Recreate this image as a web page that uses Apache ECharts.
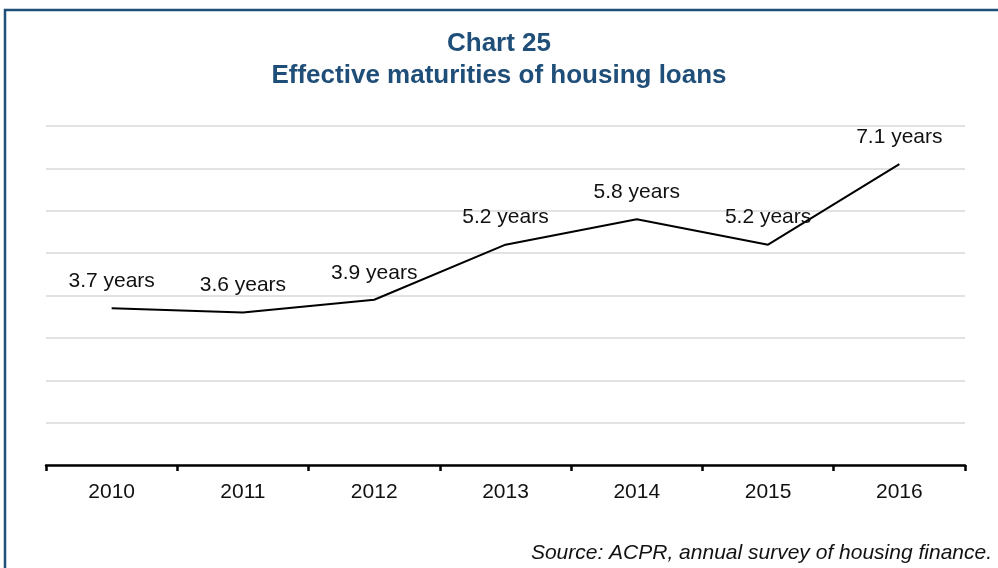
<!DOCTYPE html>
<html>
<head>
<meta charset="utf-8">
<script src="https://cdn.jsdelivr.net/npm/echarts@6/dist/echarts.min.js"></script>
<style>
  html, body { margin: 0; padding: 0; background: #fff; }
  #chart { width: 998px; height: 568px; }
</style>
</head>
<body>
<div id="chart"></div>
<script>
// Effective maturities of housing loans, in years
const years = ['2010', '2011', '2012', '2013', '2014', '2015', '2016'];
const maturities = [3.7, 3.6, 3.9, 5.2, 5.8, 5.2, 7.1];
const titleLines = ['Chart 25', 'Effective maturities of housing loans'];
const sourceNote = 'Source: ACPR, annual survey of housing finance.';

const FONT = 'Liberation Sans, Arial, sans-serif';
const BLUE = '#1F4E79';

const chart = echarts.init(document.getElementById('chart'), null, { renderer: 'canvas' });

chart.setOption({
  animation: false,
  backgroundColor: '#ffffff',
  title: {
    text: titleLines.join('\n'),
    left: 'center',
    top: 23,
    textStyle: {
      fontFamily: FONT,
      fontSize: 26,
      fontWeight: 'bold',
      color: BLUE,
      lineHeight: 32
    }
  },
  grid: {
    left: 46,
    right: 33,
    top: 126,
    bottom: 103,
    containLabel: false
  },
  xAxis: {
    type: 'category',
    data: years,
    boundaryGap: true,
    axisLine: { show: true, lineStyle: { color: '#000', width: 2.5 } },
    axisTick: { show: true, inside: false, length: 6, lineStyle: { color: '#000', width: 2.5 } },
    axisLabel: { fontFamily: FONT, fontSize: 21, color: '#111', margin: 17 },
    splitLine: { show: false }
  },
  yAxis: {
    type: 'value',
    min: 0,
    max: 8,
    interval: 1,
    axisLine: { show: false },
    axisTick: { show: false },
    axisLabel: { show: false },
    splitLine: { show: true, lineStyle: { color: '#d9d9d9', width: 1.5 } }
  },
  series: [{
    type: 'line',
    data: maturities,
    symbol: 'circle',
    symbolSize: 1,
    showSymbol: true,
    itemStyle: { color: 'rgba(0,0,0,0)' },
    lineStyle: { color: '#000', width: 2 },
    label: {
      show: true,
      position: 'top',
      distance: 16,
      fontFamily: FONT,
      fontSize: 21,
      color: '#111',
      formatter: p => p.value + ' years'
    },
    z: 3
  }],
  graphic: [
    {
      type: 'rect',
      shape: { x: 5, y: 10, width: 1010, height: 600 },
      style: { fill: 'none', stroke: BLUE, lineWidth: 2.5 },
      silent: true
    },
    {
      type: 'text',
      right: 6,
      top: 543,
      style: {
        text: sourceNote,
        fontFamily: FONT,
        fontSize: 21,
        fontStyle: 'italic',
        fill: '#111'
      }
    }
  ]
});
</script>
</body>
</html>
